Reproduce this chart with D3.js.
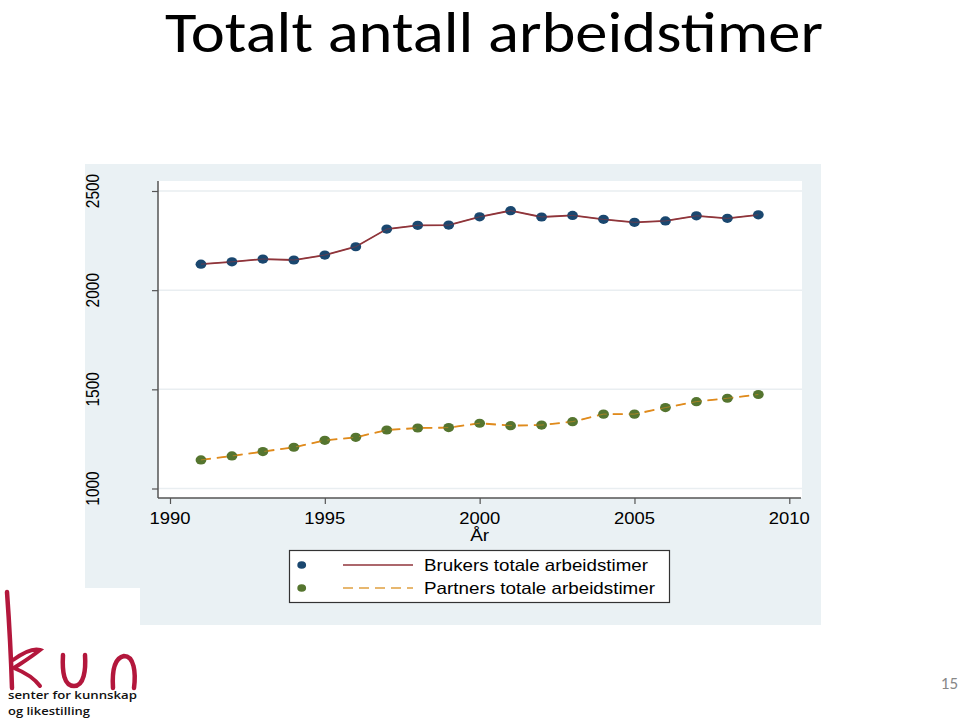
<!DOCTYPE html>
<html><head><meta charset="utf-8">
<script src="https://cdn.jsdelivr.net/npm/d3@7"></script>
<style>html,body{margin:0;padding:0;background:#fff;}svg{display:block;}</style>
</head><body>
<script>
const years = [1991,1992,1993,1994,1995,1996,1997,1998,1999,2000,2001,2002,2003,2004,2005,2006,2007,2008,2009];
const brukers = [2131,2143,2157,2152,2177,2219,2308,2327,2328,2370,2401,2369,2377,2357,2342,2349,2375,2362,2380];
const partners = [1144,1164,1186,1208,1243,1258,1295,1305,1307,1329,1317,1320,1337,1375,1375,1408,1438,1455,1474];
const xTicks = [1990,1995,2000,2005,2010];
const yTicks = [1000,1500,2000,2500];
const seriesNames = ["Brukers totale arbeidstimer","Partners totale arbeidstimer"];
const title = "Totalt antall arbeidstimer";
const xTitle = "År";

const W=960,H=718;
const svg=d3.select("body").append("svg").attr("width",W).attr("height",H);
svg.append("rect").attr("width",W).attr("height",H).attr("fill","#fff");

// Title
svg.append("text").attr("x",165).attr("y",52)
  .attr("font-family","Carlito, Lato, 'Open Sans', sans-serif").attr("font-size",58)
  .attr("textLength",658).attr("lengthAdjust","spacingAndGlyphs")
  .attr("fill","#000").text(title);

// grey panel
svg.append("rect").attr("x",85).attr("y",164).attr("width",736).attr("height",461).attr("fill","#eaf1f4");
// plot region
const x=d3.scaleLinear().domain([1990,2010]).range([170,789.3]);
const y=d3.scaleLinear().domain([1000,2500]).range([488.5,191]);
svg.append("rect").attr("x",158).attr("y",181).attr("width",644).attr("height",317).attr("fill","#fff");

const font="'Liberation Sans', Arial, sans-serif";
// gridlines
svg.append("g").selectAll("line").data(yTicks).join("line")
  .attr("x1",158).attr("x2",802).attr("y1",d=>y(d)).attr("y2",d=>y(d))
  .attr("stroke","#e9eef1").attr("stroke-width",1.5);

// y axis
const yAxis=svg.append("g").attr("transform","translate(158,0)")
  .call(d3.axisLeft(y).tickValues(yTicks).tickSize(6).tickFormat(""));
yAxis.select(".domain").attr("stroke","#555").attr("stroke-width",1.5).attr("d","M0,181V498");
yAxis.selectAll(".tick line").attr("stroke","#555").attr("stroke-width",1.2);
svg.append("g").selectAll("text").data(yTicks).join("text")
  .attr("transform",d=>`translate(99,${y(d)}) rotate(-90) scale(1,1.18)`)
  .attr("text-anchor","middle").attr("font-family",font).attr("font-size",15.5).attr("fill","#000")
  .text(d=>d);

// x axis
const xAxis=svg.append("g").attr("transform","translate(0,498)")
  .call(d3.axisBottom(x).tickValues(xTicks).tickSize(6).tickFormat(""));
xAxis.select(".domain").attr("stroke","#555").attr("stroke-width",1.5).attr("d","M158,0H801");
xAxis.selectAll(".tick line").attr("stroke","#555").attr("stroke-width",1.2);
svg.append("g").selectAll("text").data(xTicks).join("text")
  .attr("x",d=>x(d)-20.5).attr("y",524)
  .attr("textLength",41).attr("lengthAdjust","spacingAndGlyphs")
  .attr("font-family",font).attr("font-size",16.5).attr("fill","#000").text(d=>d);
svg.append("text").attr("x",x(2000)-9.5).attr("y",541)
  .attr("textLength",19).attr("lengthAdjust","spacingAndGlyphs")
  .attr("font-family",font).attr("font-size",16).text(xTitle);

// lines
const line=d3.line().x((d,i)=>x(years[i])).y(d=>y(d));
svg.append("path").datum(brukers).attr("d",line).attr("fill","none").attr("stroke","#90353b").attr("stroke-width",1.8);
svg.append("path").datum(partners).attr("d",line).attr("fill","none").attr("stroke","#e08b1c").attr("stroke-width",1.8).attr("stroke-dasharray","10,6");
// markers
svg.append("g").selectAll("ellipse").data(brukers).join("ellipse")
  .attr("cx",(d,i)=>x(years[i])).attr("cy",d=>y(d)).attr("rx",5.4).attr("ry",4.6).attr("fill","#1a476f");
svg.append("g").selectAll("ellipse").data(partners).join("ellipse")
  .attr("cx",(d,i)=>x(years[i])).attr("cy",d=>y(d)).attr("rx",5.4).attr("ry",4.6).attr("fill","#55752f");
svg.append("path").datum(brukers).attr("d",line).attr("fill","none").attr("stroke","#90353b").attr("stroke-width",1).attr("opacity",0.6);
svg.append("path").datum(partners).attr("d",line).attr("fill","none").attr("stroke","#e08b1c").attr("stroke-width",1).attr("opacity",0.6).attr("stroke-dasharray","10,6");

// legend
svg.append("rect").attr("x",289.5).attr("y",550.5).attr("width",380).attr("height",52)
  .attr("fill","#fff").attr("stroke","#333").attr("stroke-width",1.2);
const legY=[565,588];
const legCol=[["#1a476f","#90353b",null],["#55752f","#e0a040","10,6"]];
seriesNames.forEach((n,i)=>{
  svg.append("ellipse").attr("cx",301.7).attr("cy",legY[i]).attr("rx",4.4).attr("ry",3.8).attr("fill",legCol[i][0]);
  const l=svg.append("line").attr("x1",343).attr("x2",413).attr("y1",legY[i]).attr("y2",legY[i])
    .attr("stroke",legCol[i][1]).attr("stroke-width",1.6);
  if(legCol[i][2]) l.attr("stroke-dasharray",legCol[i][2]);
  svg.append("text").attr("x",424).attr("y",legY[i]+6).attr("font-family",font).attr("font-size",16.5)
    .attr("textLength",i===0?224:231).attr("lengthAdjust","spacingAndGlyphs").text(n);
});

// logo area
svg.append("rect").attr("x",0).attr("y",588).attr("width",140).attr("height",130).attr("fill","#fff");
const red="#b3173c";
const lg=svg.append("g").attr("fill","none").attr("stroke",red).attr("stroke-linecap","round");
lg.append("path").attr("d","M7,592 C9,620 11,655 12,688").attr("stroke-width",4.5);
lg.append("path").attr("d","M13,660 C24,652 34,648 40,650 C30,658 20,664 14,668 C24,672 34,678 40,686").attr("stroke-width",4);
lg.append("path").attr("d","M63,655 C62,672 64,686 74,686 C84,686 86,670 85,655").attr("stroke-width",4.5);
lg.append("path").attr("d","M113,688 C112,672 114,658 124,656 C134,656 136,672 134,688").attr("stroke-width",4.5);
svg.append("text").attr("x",8).attr("y",699).attr("font-family","'Open Sans', sans-serif").attr("font-size",11.5).attr("font-weight",600).attr("fill","#111")
  .attr("textLength",129).attr("lengthAdjust","spacingAndGlyphs").text("senter for kunnskap");
svg.append("text").attr("x",8).attr("y",714.5).attr("font-family","'Open Sans', sans-serif").attr("font-size",11.5).attr("font-weight",600).attr("fill","#111")
  .attr("textLength",82).attr("lengthAdjust","spacingAndGlyphs").text("og likestilling");

// page number
svg.append("text").attr("x",958).attr("y",689).attr("text-anchor","end").attr("font-family","Carlito, Lato, sans-serif").attr("font-size",17).attr("fill","#888").text("15");
</script>
</body></html>
